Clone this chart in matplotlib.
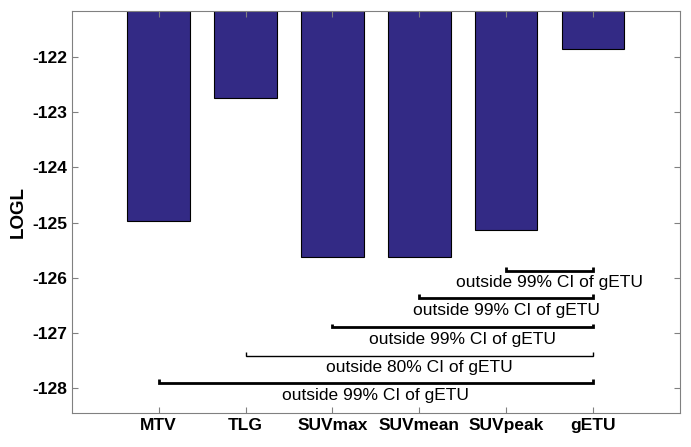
import matplotlib
matplotlib.use("Agg")
import matplotlib.pyplot as plt

plt.rcParams['font.family'] = ['Liberation Sans', 'DejaVu Sans']
plt.rcParams['axes.unicode_minus'] = False

labels = ['MTV', 'TLG', 'SUVmax', 'SUVmean', 'SUVpeak', 'gETU']
logl = [-124.98, -122.75, -125.63, -125.63, -125.14, -121.86]

# comparison brackets: start category, end category, height, text, line width
br_start = ['SUVpeak', 'SUVmean', 'SUVmax', 'TLG', 'MTV']
br_end = ['gETU', 'gETU', 'gETU', 'gETU', 'gETU']
br_y = [-125.87, -126.37, -126.90, -127.41, -127.91]
br_text = ['outside 99% CI of gETU', 'outside 99% CI of gETU', 'outside 99% CI of gETU',
           'outside 80% CI of gETU', 'outside 99% CI of gETU']
br_lw = [2.0, 2.0, 2.0, 1.0, 2.0]

fig = plt.figure(figsize=(6.91, 4.47), dpi=100)
ax = fig.add_axes([0.104, 0.076, 0.88, 0.899])

x = list(range(1, len(labels) + 1))
ax.bar(x, logl, width=0.72, color='#332a85', edgecolor='black', linewidth=0.8)

for s, e, y, t, lw in zip(br_start, br_end, br_y, br_text, br_lw):
    x0 = labels.index(s) + 1
    x1 = labels.index(e) + 1
    ax.plot([x0, x0, x1, x1], [y + 0.07, y, y, y + 0.07], color='black', lw=lw,
            solid_capstyle='butt', solid_joinstyle='miter')
    ax.text((x0 + x1) / 2, y - 0.08, t, ha='center', va='top', fontsize=12.5)

ax.set_xlim(0, 7)
ax.set_ylim(-128.45, -121.17)
ax.set_xticks(x)
ax.set_xticklabels(labels, fontsize=12.5, fontweight='bold')
ax.set_yticks([-128, -127, -126, -125, -124, -123, -122])
ax.set_yticklabels(['-128', '-127', '-126', '-125', '-124', '-123', '-122'],
                   fontsize=12.5, fontweight='bold')
ax.set_ylabel('LOGL', fontsize=13.5, fontweight='bold', labelpad=4)

ax.tick_params(direction='in', length=4, color='#808080', top=True, right=True)
for sp in ax.spines.values():
    sp.set_color('#808080')

fig.savefig('out.png', dpi=100)
